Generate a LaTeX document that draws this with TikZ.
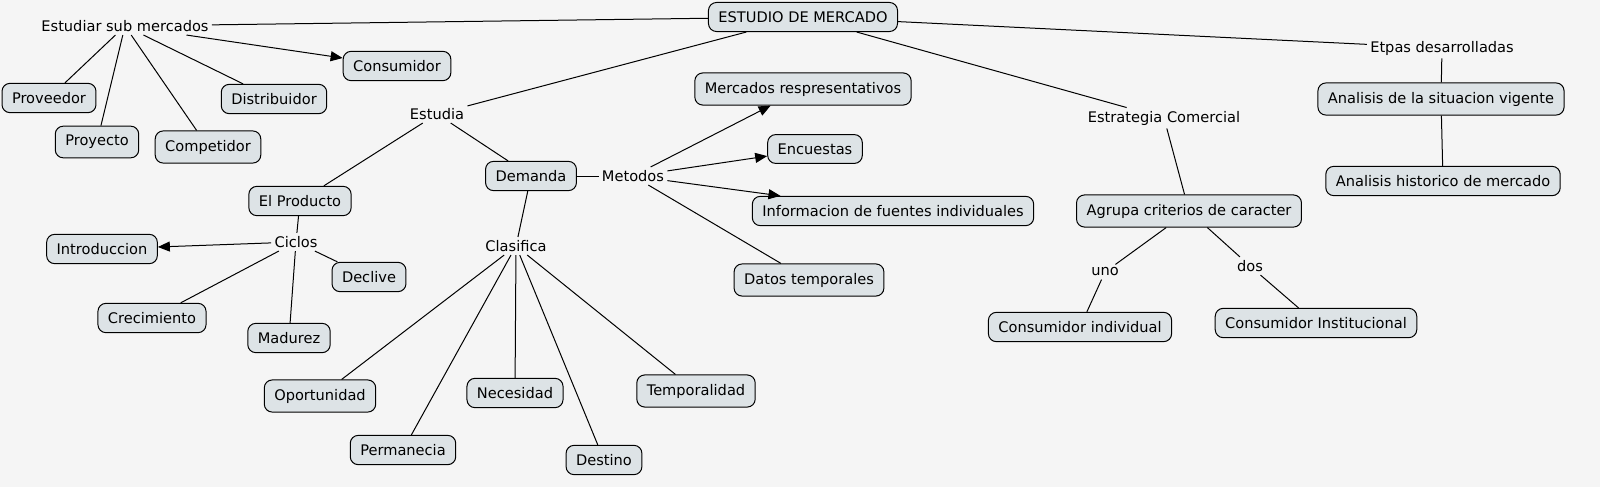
\documentclass[tikz,border=0pt]{standalone}
\usepackage{fontspec}
\setmainfont{DejaVu Sans}
\usetikzlibrary{arrows.meta}
\definecolor{bg}{HTML}{F5F5F5}
\definecolor{boxc}{HTML}{DDE3E6}
\begin{document}
\begin{tikzpicture}[x=0.5pt,y=-0.5pt,
  box/.style={draw=black,fill=boxc,rounded corners=4pt,font=\fontsize{7.3}{8}\selectfont,inner xsep=5pt,inner ysep=4.5pt,line width=0.5pt},
  lab/.style={font=\fontsize{7.3}{8}\selectfont,inner sep=1.5pt},
  ln/.style={line width=0.5pt},
  arr/.style={line width=0.5pt,-{Triangle[length=6pt,width=5pt]}}]
\useasboundingbox (0,0) rectangle (1600,487);
\fill[bg] (0,0) rectangle (1600,487);
\node[box] (main) at (803,17) {ESTUDIO DE MERCADO};
\node[lab] (esm) at (125,26) {Estudiar sub mercados};
\node[box] (cons) at (397,66) {Consumidor};
\node[box] (prov) at (49,98) {Proveedor};
\node[box] (proy) at (97,142) {Proyecto};
\node[box] (comp) at (208,147) {Competidor};
\node[box] (dist) at (274,99) {Distribuidor};
\node[lab] (estu) at (437,114) {Estudia};
\node[box] (merc) at (803,89) {Mercados respresentativos};
\node[box] (encu) at (815,149) {Encuestas};
\node[box] (info) at (893,211) {Informacion de fuentes individuales};
\node[box] (dato) at (809,280) {Datos temporales};
\node[lab] (meto) at (633,176) {Metodos};
\node[box] (dema) at (531,176) {Demanda};
\node[box] (prod) at (300,201) {El Producto};
\node[lab] (cicl) at (296,242) {Ciclos};
\node[box] (intr) at (102,249) {Introduccion};
\node[box] (decl) at (369,277) {Declive};
\node[box] (crec) at (152,318) {Crecimiento};
\node[box] (madu) at (289,338) {Madurez};
\node[lab] (clas) at (516,246) {Clasifica};
\node[box] (opor) at (320,396) {Oportunidad};
\node[box] (nece) at (515,393) {Necesidad};
\node[box] (temp) at (696,391) {Temporalidad};
\node[box] (perm) at (403,450) {Permanecia};
\node[box] (dest) at (604,460) {Destino};
\node[lab] (estr) at (1164,118) {Estrategia Comercial};
\node[box] (agru) at (1189,211) {Agrupa criterios de caracter};
\node[lab] (uno) at (1105,272) {uno};
\node[lab] (dos) at (1250,266) {dos};
\node[box] (cind) at (1080,327) {Consumidor individual};
\node[box] (cins) at (1316,323) {Consumidor Institucional};
\node[lab] (etpa) at (1442,48) {Etpas desarrolladas};
\node[box] (anas) at (1441,99) {Analisis de la situacion vigente};
\node[box] (anah) at (1443,181) {Analisis historico de mercado};
\draw[ln] (main) -- (esm);
\draw[arr] (esm) -- (cons);
\foreach \t in {prov,proy,comp,dist} \draw[ln] (esm) -- (\t);
\draw[ln] (main) -- (estu);
\draw[ln] (estu) -- (prod);
\draw[ln] (estu) -- (dema);
\draw[ln] (dema) -- (meto);
\foreach \t in {merc,encu,info} \draw[arr] (meto) -- (\t);
\draw[ln] (meto) -- (dato);
\draw[ln] (dema) -- (clas);
\foreach \t in {opor,perm,nece,dest,temp} \draw[ln] (clas) -- (\t);
\draw[ln] (prod) -- (cicl);
\draw[arr] (cicl) -- (intr);
\foreach \t in {crec,madu,decl} \draw[ln] (cicl) -- (\t);
\draw[ln] (main) -- (estr);
\draw[ln] (estr) -- (agru);
\draw[ln] (agru) -- (uno);
\draw[ln] (uno) -- (cind);
\draw[ln] (agru) -- (dos);
\draw[ln] (dos) -- (cins);
\draw[ln] (main) -- (etpa);
\draw[ln] (etpa) -- (anas);
\draw[ln] (anas) -- (anah);
\end{tikzpicture}
\end{document}
